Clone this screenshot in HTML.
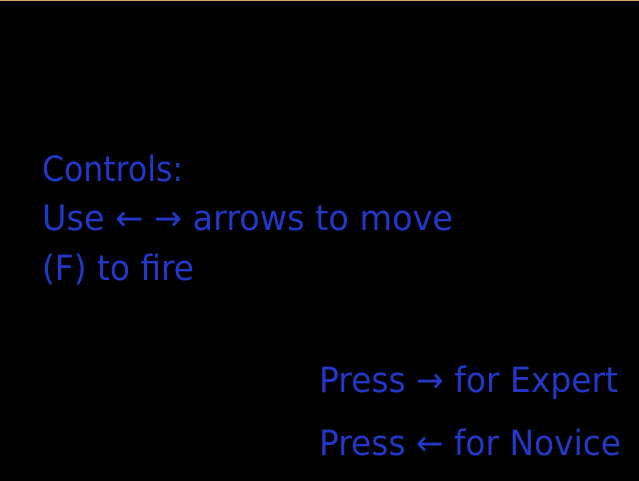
<!DOCTYPE html>
<html><head><meta charset="utf-8"><style>
html,body{margin:0;padding:0;background:#000;width:639px;height:481px;overflow:hidden}
svg{display:block}
text{font-family:"DejaVu Sans","Liberation Sans",sans-serif;font-size:35px;fill:#2337c8}
</style></head><body>
<svg width="639" height="481" xmlns="http://www.w3.org/2000/svg">
<rect width="639" height="481" fill="#000"/>
<rect width="639" height="1" fill="#e0a060"/>
<text x="42" y="181" textLength="141" lengthAdjust="spacingAndGlyphs">Controls:</text>
<text x="42" y="230" textLength="411" lengthAdjust="spacingAndGlyphs">Use ← → arrows to move</text>
<text x="42" y="280" textLength="152" lengthAdjust="spacingAndGlyphs">(F) to fire</text>
<text x="319" y="392" textLength="299" lengthAdjust="spacingAndGlyphs">Press → for Expert</text>
<text x="319" y="455" textLength="302" lengthAdjust="spacingAndGlyphs">Press ← for Novice</text>
</svg>
</body></html>
